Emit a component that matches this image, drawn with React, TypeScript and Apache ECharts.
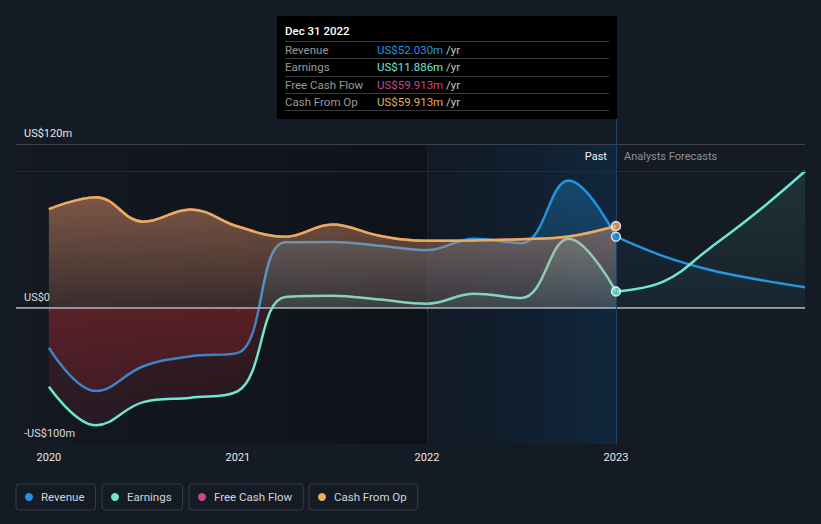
import React, { useEffect, useRef } from 'react';
import * as echarts from 'echarts';

const seriesNames = ['Revenue', 'Earnings', 'Free Cash Flow', 'Cash From Op'];
const seriesColors = ['#2394df', '#6ee7d1', '#c8488a', '#e8ad5c'];
const seriesRgb = ['35,148,223', '110,231,209', '200,72,138', '232,173,92'];

const pastDates = [2020, 2020.25, 2020.5, 2020.75, 2021, 2021.25, 2021.5, 2021.75, 2022, 2022.25, 2022.5, 2022.75, 2023];
const revenuePast = [-29.5, -61.2, -43, -35.6, -33.2, 48, 48.2, 45.4, 42.2, 50.5, 47.3, 93.2, 52.03];
const earningsPast = [-58, -86.3, -69.3, -66, -61.2, 7.8, 8.8, 5.9, 2.9, 10.2, 7.1, 50.5, 11.886];
const freeCashFlowPast = [72.2, 81, 63, 72, 59.5, 52, 61, 52.7, 49, 49.3, 50.2, 52.2, 59.913];
const cashFromOpPast = [72.2, 81, 63, 72, 59.5, 52, 61, 52.7, 49, 49.3, 50.2, 52.2, 59.913];

const forecastDates = [2023, 2023.25, 2023.5, 2023.75, 2024];
const revenueForecast = [52.03, 37.8, 27.6, 20.6, 14.9];
const earningsForecast = [11.886, 19, 44, 70.5, 100];

const xTickValues = [2020, 2021, 2022, 2023];
const yTickValues = [-100, 0, 120];
const gridLineValues = [100, 120];
const tooltipDate = 'Dec 31 2022';
const highlightStart = 2022;
const pastEnd = 2023;

const X_MIN = 2019.826;
const X_MAX = 2024;
const Y_MIN = -100;
const Y_MAX = 120;

const W = 821;
const H = 524;
const GRID = { left: 16, right: 16, top: 144, bottom: 80 };
const BG = '#151b24';
const FONT = 'Roboto, "Noto Sans", sans-serif';

const zeroFrac = Y_MAX / (Y_MAX - Y_MIN);

function areaGradient(rgb: string, topA: number, zeroA: number, negA0: number, negA1: number) {
  const top = GRID.top;
  const bottom = H - GRID.bottom;
  return new echarts.graphic.LinearGradient(0, top, 0, bottom, [
    { offset: 0, color: `rgba(${rgb},${topA})` },
    { offset: zeroFrac, color: `rgba(${rgb},${zeroA})` },
    { offset: zeroFrac, color: `rgba(212,44,52,${negA0})` },
    { offset: 1, color: `rgba(212,44,52,${negA1})` },
  ], true);
}

function pairs(dates: number[], vals: number[]) {
  return dates.map((d, i) => [d, vals[i]]);
}

function lineSeries(name: string, data: number[][], idx: number, area: any, z: number) {
  return {
    type: 'line',
    name,
    data,
    smooth: 0.4,
    symbol: 'none',
    showSymbol: false,
    silent: true,
    z,
    lineStyle: { color: seriesColors[idx], width: 2.5 },
    itemStyle: { color: seriesColors[idx] },
    areaStyle: { color: area, opacity: 1 },
  };
}

function fmtMoney(v: number) {
  return 'US$' + v.toFixed(3) + 'm';
}

function yLabel(v: number) {
  if (v === 0) return 'US$0';
  return (v < 0 ? '-' : '') + 'US$' + Math.abs(v) + 'm';
}

const legendLefts = [16, 102, 189, 309];

export default function App() {
  const ref = useRef<HTMLDivElement>(null);

  useEffect(() => {
    if (!ref.current) return;
    const chart = echarts.init(ref.current, undefined, { renderer: 'svg' });

    const option: any = {
      animation: false,
      backgroundColor: BG,
      textStyle: { fontFamily: FONT },
      grid: { ...GRID, containLabel: false },
      legend: seriesNames.map((n, i) => ({
        data: [n],
        left: legendLefts[i],
        top: 484,
        icon: 'circle',
        itemWidth: 14,
        itemHeight: 8,
        itemGap: 0,
        padding: [7, 11, 7, 9],
        borderColor: '#373c46',
        borderWidth: 1,
        borderRadius: 3,
        selectedMode: false,
        textStyle: { color: '#d2d5da', fontSize: 11.5, fontFamily: FONT },
      })),
      xAxis: {
        type: 'value',
        min: X_MIN,
        max: X_MAX,
        axisLine: { show: true, lineStyle: { color: '#50545c', width: 1 } },
        axisTick: { show: true, customValues: xTickValues, length: 4, lineStyle: { color: '#50545c' } },
        axisLabel: {
          customValues: xTickValues,
          formatter: (v: number) => String(Math.round(v)),
          color: '#e8e8e8',
          fontSize: 11,
          margin: 8,
          fontFamily: FONT,
        },
        splitLine: { show: false },
      },
      yAxis: {
        type: 'value',
        min: Y_MIN,
        max: Y_MAX,
        axisLine: { show: false },
        axisTick: { show: false },
        splitLine: { show: false },
        axisLabel: {
          customValues: yTickValues,
          inside: true,
          margin: 8,
          formatter: yLabel,
          color: '#e8e8e8',
          fontSize: 11,
          verticalAlign: 'bottom',
          padding: [0, 0, 5, 0],
          fontFamily: FONT,
        },
      },
      series: [
        {
          type: 'line',
          name: 'pastRegion',
          data: [[X_MIN, 0]],
          symbol: 'none',
          lineStyle: { width: 0 },
          silent: true,
          z: 1,
          markArea: {
            silent: true,
            itemStyle: {
              color: new echarts.graphic.LinearGradient(0, 0, 1, 0, [
                { offset: 0, color: 'rgba(0,0,0,0.06)' },
                { offset: 1, color: 'rgba(0,0,0,0.32)' },
              ]),
            },
            data: [[{ xAxis: X_MIN }, { xAxis: highlightStart }]],
          },
          markLine: {
            silent: true,
            symbol: ['none', 'none'],
            label: { show: false },
            lineStyle: { type: 'solid', width: 1 },
            data: [
              { yAxis: gridLineValues[0], lineStyle: { color: '#252b34', type: 'solid', width: 1 } },
              { yAxis: gridLineValues[1], lineStyle: { color: '#3c414a', type: 'solid', width: 1 } },
            ],
          },
        },
        lineSeries(seriesNames[0], pairs(pastDates, revenuePast), 0, areaGradient(seriesRgb[0], 0.4, 0.08, 0.21, 0.08), 2),
        lineSeries(seriesNames[1], pairs(pastDates, earningsPast), 1, areaGradient(seriesRgb[1], 0.35, 0.08, 0.21, 0.08), 3),
        lineSeries(seriesNames[2], pairs(pastDates, freeCashFlowPast), 2, areaGradient(seriesRgb[2], 0.28, 0.07, 0, 0), 4),
        lineSeries(seriesNames[3], pairs(pastDates, cashFromOpPast), 3, areaGradient(seriesRgb[3], 0.5, 0.12, 0, 0), 5),
        lineSeries(seriesNames[0], pairs(forecastDates, revenueForecast), 0, areaGradient(seriesRgb[0], 0.14, 0.03, 0, 0), 2),
        lineSeries(seriesNames[1], pairs(forecastDates, earningsForecast), 1, areaGradient(seriesRgb[1], 0.13, 0.03, 0, 0), 3),
        {
          type: 'line',
          name: 'highlight',
          data: [[highlightStart, 0]],
          symbol: 'none',
          lineStyle: { width: 0 },
          silent: true,
          z: 6,
          markArea: {
            silent: true,
            itemStyle: {
              color: new echarts.graphic.LinearGradient(0, 0, 1, 0, [
                { offset: 0, color: 'rgba(0,20,40,0.2)' },
                { offset: 1, color: 'rgba(5,65,120,0.3)' },
              ]),
            },
            data: [[{ xAxis: highlightStart }, { xAxis: pastEnd }]],
          },
          markLine: {
            silent: true,
            symbol: ['none', 'none'],
            label: { show: false },
            data: [
              { xAxis: highlightStart, lineStyle: { color: 'rgba(40,70,100,0.25)', type: 'solid', width: 1 } },
              { yAxis: 0, lineStyle: { color: '#aeb2b8', type: 'solid', width: 1.5 } },
            ],
          },
        },
        ...[3, 0, 1].map((i) => {
          const vals = [revenuePast, earningsPast, freeCashFlowPast, cashFromOpPast][i];
          return {
            type: 'scatter',
            name: 'marker-' + i,
            data: [[pastEnd, vals[vals.length - 1]]],
            symbol: 'circle',
            symbolSize: 9,
            silent: true,
            z: 9,
            itemStyle: { color: seriesColors[i], borderColor: '#ffffff', borderWidth: 1.5 },
          };
        }),
      ],
    };

    chart.setOption(option);

    const [xEnd, yTop] = chart.convertToPixel({ gridIndex: 0 }, [pastEnd, Y_MAX]) as number[];
    const [, yBottom] = chart.convertToPixel({ gridIndex: 0 }, [pastEnd, Y_MIN]) as number[];

    const ttW = 340;
    const ttX = Math.round(xEnd) - ttW + 1;
    const ttY = 16;
    const ttH = 103;
    const rowVals = [revenuePast, earningsPast, freeCashFlowPast, cashFromOpPast].map((a) => a[a.length - 1]);
    const rowYs = [49.5, 67, 84.5, 102];
    const sepYs = [41.5, 58.5, 76.5, 93.5, 110.5];

    const graphic: any[] = [
      {
        type: 'line',
        silent: true,
        z: 7,
        shape: { x1: Math.round(xEnd) + 0.5, y1: ttY + ttH, x2: Math.round(xEnd) + 0.5, y2: yBottom },
        style: { stroke: '#1a4468', lineWidth: 1 },
      },
      {
        type: 'text',
        silent: true,
        z: 7,
        x: xEnd - 9,
        y: yTop + 12,
        style: { text: 'Past', fill: '#f2f2f2', fontSize: 11, fontFamily: FONT, align: 'right', verticalAlign: 'middle' },
      },
      {
        type: 'text',
        silent: true,
        z: 7,
        x: xEnd + 8,
        y: yTop + 12,
        style: { text: 'Analysts Forecasts', fill: '#8b9098', fontSize: 11, fontFamily: FONT, align: 'left', verticalAlign: 'middle' },
      },
      {
        type: 'rect',
        silent: true,
        z: 20,
        shape: { x: ttX, y: ttY, width: ttW, height: ttH },
        style: { fill: '#000000' },
      },
      {
        type: 'text',
        silent: true,
        z: 21,
        x: ttX + 8,
        y: 31,
        style: { text: tooltipDate, fill: '#ffffff', fontSize: 11.5, fontWeight: 500, fontFamily: FONT, verticalAlign: 'middle' },
      },
      ...sepYs.map((sy) => ({
        type: 'line',
        silent: true,
        z: 21,
        shape: { x1: ttX + 8, y1: sy, x2: ttX + ttW - 8, y2: sy },
        style: { stroke: '#3a3a3a', lineWidth: 1 },
      })),
      ...seriesNames.map((n, i) => ({
        type: 'text',
        silent: true,
        z: 21,
        x: ttX + 8,
        y: rowYs[i],
        style: { text: n, fill: '#9a9a9a', fontSize: 11.5, fontFamily: FONT, verticalAlign: 'middle' },
      })),
      ...seriesNames.map((n, i) => ({
        type: 'text',
        silent: true,
        z: 21,
        x: ttX + 100,
        y: rowYs[i],
        style: {
          text: `{v|${fmtMoney(rowVals[i])}} {u|/yr}`,
          fontSize: 11.5,
          fontFamily: FONT,
          verticalAlign: 'middle',
          rich: {
            v: { fill: seriesColors[i], fontSize: 11.5, fontFamily: FONT },
            u: { fill: '#c8c8c8', fontSize: 11.5, fontFamily: FONT },
          },
        },
      })),
    ];

    chart.setOption({ graphic });

    return () => {
      chart.dispose();
    };
  }, []);

  return (
    <div
      ref={ref}
      style={{ position: 'fixed', left: 0, top: 0, width: W, height: H, background: BG }}
    />
  );
}
